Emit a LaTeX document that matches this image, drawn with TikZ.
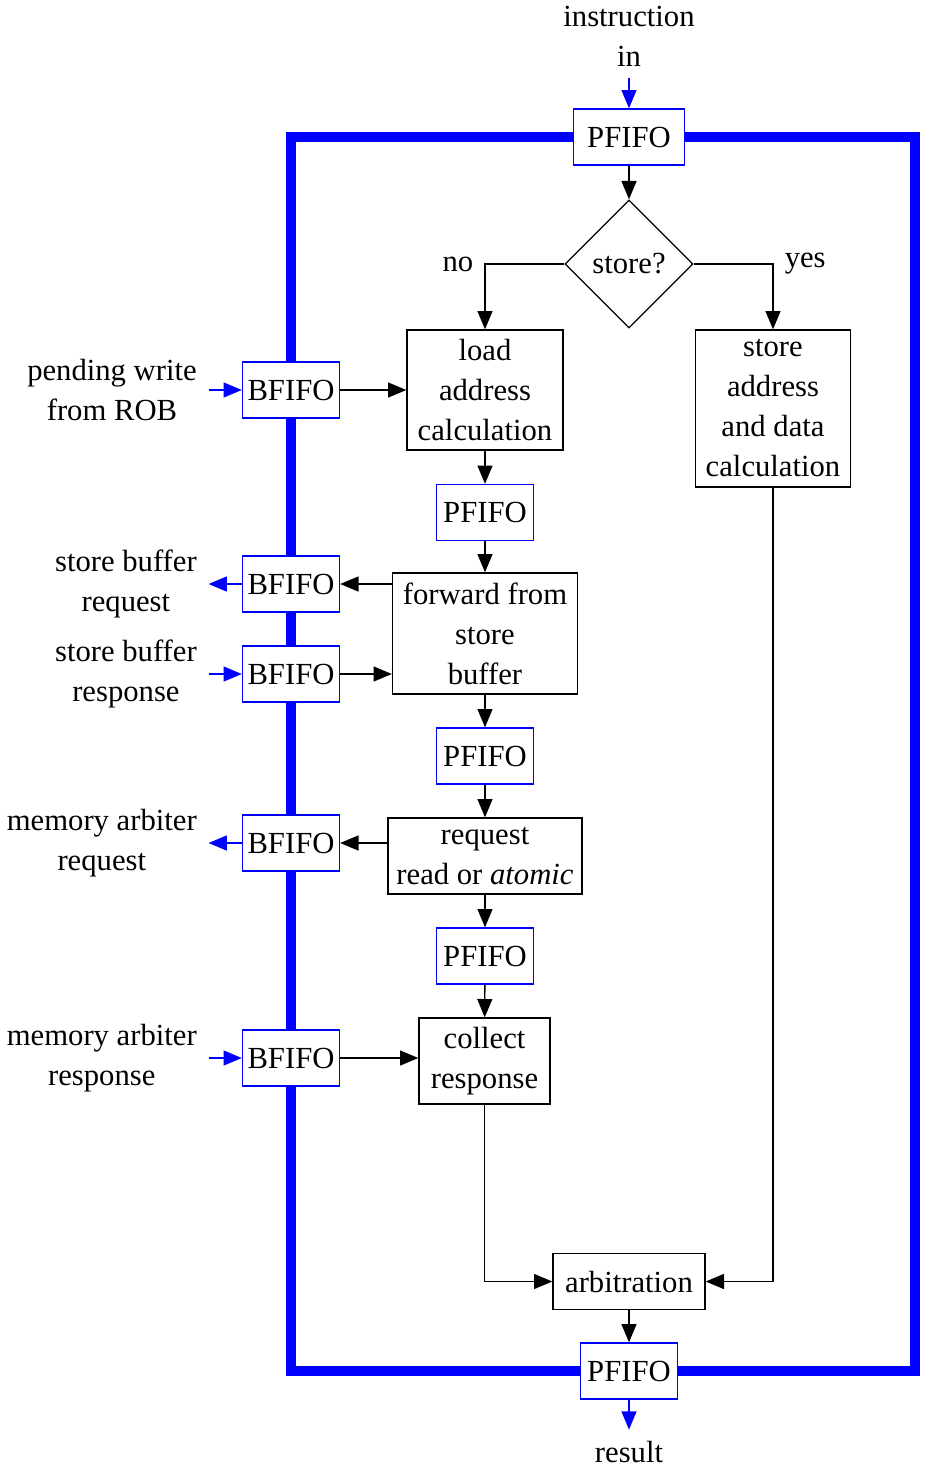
\documentclass[tikz,border=0pt]{standalone}
\usepackage{fontspec}
\setmainfont{Liberation Serif}
\usetikzlibrary{positioning,arrows.meta,shapes.geometric,backgrounds}

\begin{document}
\begin{tikzpicture}[x=0.3pt, y=-0.3pt, font=\fontsize{9.2}{12}\selectfont,
      >={Triangle[length=5.5pt,width=4.5pt]},
      fifo/.style={draw=blue, fill=white, minimum width=29.1pt, minimum height=16.8pt, inner sep=1pt},
      proc/.style={draw, fill=white, align=center, inner sep=1pt},
      lbl/.style={align=center},
      barrow/.style={->, blue}]
    \useasboundingbox (0,0) rectangle (947,1467);
    % main pipeline
    \node[fifo, minimum width=33.3pt] (pin) at (629,137) {PFIFO};
    \node[draw, diamond, fill=white, minimum width=38.4pt, minimum height=38.4pt, inner sep=0pt] (dec) at (629,264) {store?};
    \node[proc, minimum width=46.8pt, minimum height=36pt] (ld) at (485,390) {load\\address\\calculation};
    \node[proc, minimum width=46.5pt, minimum height=47.1pt] (st) at (773,408.5) {store\\address\\and data\\calculation};
    \node[fifo] (p2) at (485,512.5) {PFIFO};
    \node[proc, minimum width=55.5pt, minimum height=36.3pt] (fwd) at (485,633.5) {forward from\\store\\buffer};
    \node[fifo] (p3) at (485,756) {PFIFO};
    \node[proc, minimum width=58.2pt, minimum height=22.8pt] (rq) at (485,856) {request\\read or \textit{atomic}};
    \node[fifo] (p4) at (485,956) {PFIFO};
    \node[proc, minimum width=39.3pt, minimum height=25.8pt] (col) at (484.5,1061) {collect\\response};
    \node[proc, minimum width=45.6pt, minimum height=16.8pt] (arb) at (629,1281.5) {arbitration};
    \node[fifo] (pout) at (629,1371) {PFIFO};
    % side fifos
    \node[fifo] (bpw) at (291,390) {BFIFO};
    \node[fifo] (bsq) at (291,584) {BFIFO};
    \node[fifo] (bsr) at (291,674) {BFIFO};
    \node[fifo] (bmq) at (291,843) {BFIFO};
    \node[fifo] (bmr) at (291,1058) {BFIFO};
    \node[lbl, left=10pt of bpw] (lpw) {pending write\\from ROB};
    \node[lbl, left=10pt of bsq] (lsq) {store buffer\\request};
    \node[lbl, left=10pt of bsr] (lsr) {store buffer\\response};
    \node[lbl, left=10pt of bmq] (lmq) {memory arbiter\\request};
    \node[lbl, left=10pt of bmr] (lmr) {memory arbiter\\response};
    \node[lbl, above=9pt of pin] (lin) {instruction\\in};
    \node[lbl, below=9pt of pout] (lres) {result};
    % loop
    \coordinate (rr) at (915,1370);
    \begin{scope}[on background layer]
      \draw[blue, line width=3pt] (bpw |- pin) rectangle (rr |- pout);
    \end{scope}
    \draw[->] (pin) -- (dec);
    \draw[->] (dec.west) -| node[pos=0.5, anchor=east]{no} (ld);
    \draw[->] (dec.east) -| node[pos=0.5, anchor=west]{yes} (st);
    \draw[->] (ld) -- (p2); \draw[->] (p2) -- (fwd); \draw[->] (fwd) -- (p3);
    \draw[->] (p3) -- (rq); \draw[->] (rq) -- (p4); \draw[->] (p4) -- (col);
    \draw[->] (col) |- (arb); \draw[->] (st) |- (arb); \draw[->] (arb) -- (pout);
    \draw[->] (bpw) -- (ld);
    \draw[->] (fwd.west |- bsq) -- (bsq);
    \draw[->] (bsr) -- (fwd.west |- bsr);
    \draw[->] (rq.west |- bmq) -- (bmq);
    \draw[->] (bmr) -- (col.west |- bmr);
    \draw[barrow] (lin) -- (pin); \draw[barrow] (pout) -- (lres);
    \draw[barrow] (lpw) -- (bpw); \draw[barrow] (bsq) -- (lsq);
    \draw[barrow] (lsr) -- (bsr); \draw[barrow] (bmq) -- (lmq);
    \draw[barrow] (lmr) -- (bmr);
  \end{tikzpicture}
\end{document}
